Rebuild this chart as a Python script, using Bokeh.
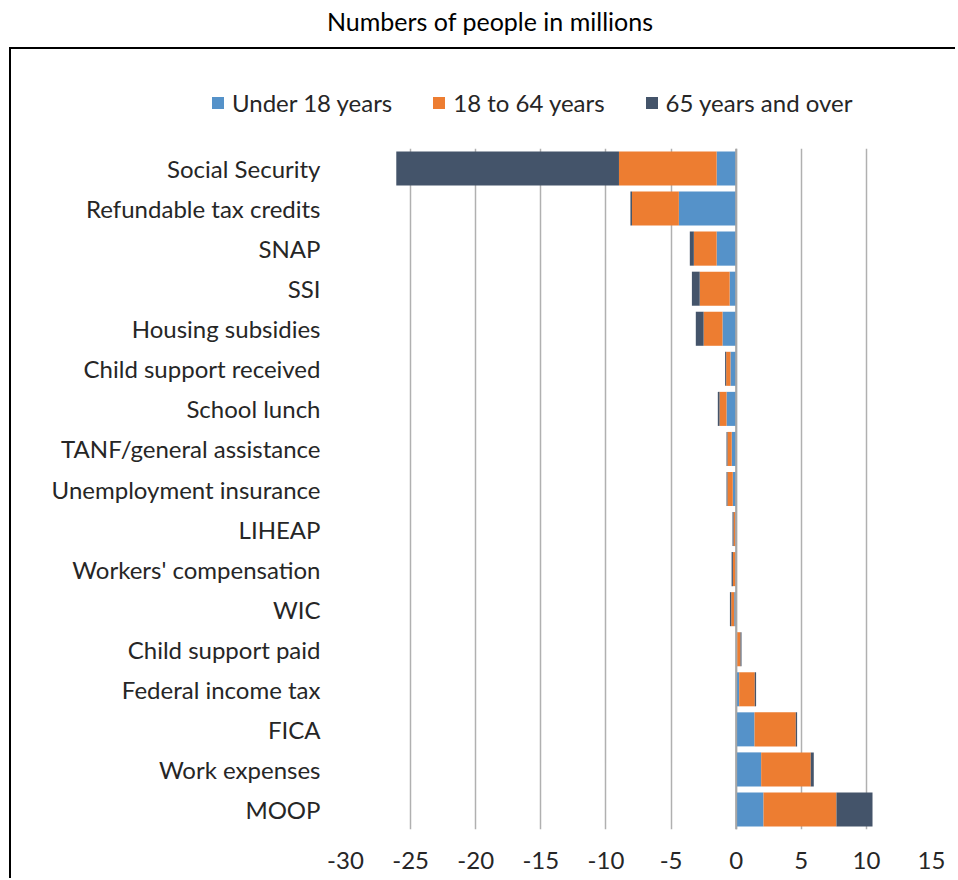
from bokeh.plotting import figure
from bokeh.models import (FactorRange, FixedTicker, Span, Legend, LegendItem,
                          Div, ColumnDataSource)
from bokeh.embed import file_html
from bokeh.resources import INLINE

categories = ["Social Security", "Refundable tax credits", "SNAP", "SSI",
              "Housing subsidies", "Child support received", "School lunch",
              "TANF/general assistance", "Unemployment insurance", "LIHEAP",
              "Workers' compensation", "WIC", "Child support paid",
              "Federal income tax", "FICA", "Work expenses", "MOOP"]
under_18 = [-1.5, -4.4, -1.5, -0.5, -1.05, -0.44, -0.74, -0.34, -0.26, -0.05,
            -0.03, -0.15, 0.08, 0.23, 1.41, 1.92, 2.1]
age_18_64 = [-7.5, -3.6, -1.75, -2.3, -1.45, -0.33, -0.54, -0.33, -0.41, -0.15,
             -0.22, -0.23, 0.25, 1.2, 3.17, 3.81, 5.6]
age_65_over = [-17.1, -0.12, -0.31, -0.6, -0.6, -0.08, -0.13, -0.07, -0.07, -0.08,
               -0.1, -0.1, 0.08, 0.1, 0.1, 0.23, 2.77]
series_names = ["Under 18 years", "18 to 64 years", "65 years and over"]
x_ticks = [-30, -25, -20, -15, -10, -5, 0, 5, 10, 15]
title_text = "Numbers of people in millions"

colors = ["#5592C9", "#ED7D31", "#44546A"]
FONT = "Lato"
FS = "24px"
W = 946
fields = ["u18", "a1864", "a65"]

src = ColumnDataSource(dict(cat=categories, u18=under_18, a1864=age_18_64,
                            a65=age_65_over))

# ---- main chart ----
p = figure(width=W, height=740,
           y_range=FactorRange(factors=list(reversed(categories))),
           x_range=(x_ticks[0], x_ticks[-1]),
           output_backend="svg", toolbar_location=None,
           min_border_left=334, min_border_right=26,
           min_border_top=10, min_border_bottom=49)
p.styles = {"border-left": "2px solid black", "margin-left": "9px"}

rs = p.hbar_stack(fields, y="cat", height=0.85,
                  color=colors, line_color=None, source=src)

p.add_layout(Span(location=0, dimension="height", line_color="#A6A6A6",
                  line_width=2))

p.xaxis.ticker = FixedTicker(ticks=x_ticks)
p.xaxis.major_label_overrides = {t: str(t) for t in x_ticks}
p.xgrid.ticker = FixedTicker(ticks=x_ticks[1:])
p.xgrid.grid_line_color = "#B0B0B0"
p.xgrid.grid_line_width = 1.5
p.ygrid.grid_line_color = None
p.outline_line_color = None

for ax in (p.xaxis[0], p.yaxis[0]):
    ax.axis_line_color = None
    ax.major_tick_line_color = None
    ax.minor_tick_line_color = None
    ax.major_tick_out = 0
    ax.major_tick_in = 0
    ax.major_label_text_font = FONT
    ax.major_label_text_font_size = FS
    ax.major_label_text_color = "#262626"
p.yaxis.major_label_standoff = 25
p.xaxis.major_label_standoff = 22

# ---- legend strip: same series (hidden) so the legend shows their styling ----
lg = figure(width=W, height=91, x_range=(0, 1),
            y_range=FactorRange(factors=list(reversed(categories))),
            output_backend="svg", toolbar_location=None,
            min_border=0, min_border_left=0, min_border_right=0,
            min_border_top=0, min_border_bottom=0)
lg.styles = {"border-left": "2px solid black", "border-top": "2px solid black",
             "margin-left": "9px"}
lg.axis.visible = False
lg.grid.grid_line_color = None
lg.outline_line_color = None
lr = lg.hbar_stack(fields, y="cat", height=0.85, color=colors,
                   line_color=None, source=src, visible=False)
legend = Legend(items=[LegendItem(label=n, renderers=[r])
                       for n, r in zip(series_names, lr)],
                orientation="horizontal", location=(199, 23),
                glyph_width=15, glyph_height=15, label_standoff=7,
                spacing=39, padding=0, margin=0, label_height=30,
                label_text_font=FONT, label_text_font_size=FS,
                label_text_color="#262626", click_policy="none",
                inactive_fill_alpha=0,
                border_line_color=None, background_fill_alpha=0)
lg.add_layout(legend, "center")

title = Div(text=f'<div style="font-family:Lato; font-size:25px; color:#000; '
                 f'width:940px; text-align:center; padding-left:30px; '
                 f'line-height:32px; margin:0">{title_text}</div>',
            width=950, height=37)

open("out.html", "w").write(file_html([title, lg, p], INLINE))
